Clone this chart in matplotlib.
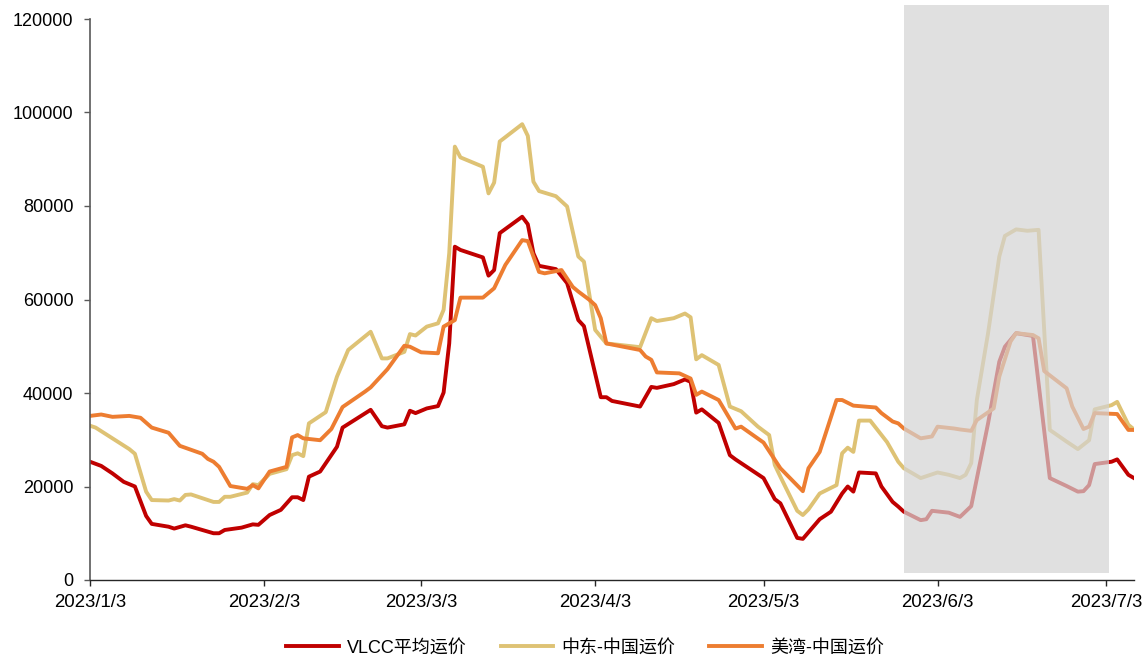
import numpy as np
import pandas as pd
import matplotlib
matplotlib.use("Agg")
import matplotlib.pyplot as plt
import matplotlib.dates as mdates
import matplotlib.patches as patches

plt.rcParams['font.family'] = ['Liberation Sans', 'Noto Sans CJK SC']
plt.rcParams['axes.unicode_minus'] = False

# daily freight rates, x as days since 2023-01-03
start = pd.Timestamp("2023-01-03")

vlcc_day = [0, 2, 4, 6, 8, 10, 11, 14, 15, 17, 18, 22, 23, 24, 27, 29, 30, 32, 34, 36,
            37, 38, 39, 41, 44, 45, 50, 52, 53, 56, 57, 58, 60, 62, 63, 64, 65, 66, 70, 71,
            72, 73, 77, 78, 79, 80, 83, 85, 87, 88, 91, 92, 93, 98, 100, 101, 104, 106, 107, 108,
            109, 112, 114, 115, 120, 122, 123, 126, 127, 130, 132, 134, 135, 136, 137, 140, 141, 143, 144, 145,
            148, 149, 150, 153, 155, 157, 160, 162, 163, 165, 168, 171, 174, 176, 177, 178, 179, 182, 183, 185,
            186]
vlcc_rate = [25300, 24400, 22800, 21000, 20000, 13700, 12000, 11400, 11000, 11700, 11400, 10000, 10000, 10700, 11200, 11900, 11800, 13900, 15000, 17700,
             17700, 17100, 22100, 23200, 28500, 32600, 36400, 32900, 32600, 33300, 36200, 35700, 36700, 37200, 40100, 50600, 71300, 70600, 69000, 65100,
             66300, 74200, 77700, 76100, 69900, 67200, 66500, 63500, 55600, 54300, 39100, 39100, 38300, 37100, 41300, 41100, 41900, 42900, 42400, 35800,
             36500, 33600, 26700, 25800, 21800, 17300, 16400, 9000, 8800, 13000, 14600, 18500, 20000, 18900, 23000, 22800, 20000, 16700, 15700, 14600,
             12800, 13000, 14800, 14400, 13500, 15800, 33500, 46700, 49900, 52800, 52200, 21800, 20100, 18900, 19000, 20300, 24800, 25300, 25800, 22500,
             21800]

me_day = [0, 1, 4, 7, 8, 10, 11, 14, 15, 16, 17, 18, 22, 23, 24, 25, 28, 29, 30, 32,
          35, 36, 37, 38, 39, 42, 44, 46, 50, 52, 53, 56, 57, 58, 60, 62, 63, 64, 65, 66,
          70, 71, 72, 73, 77, 78, 79, 80, 83, 85, 87, 88, 90, 92, 98, 100, 101, 104, 106, 107,
          108, 109, 112, 114, 116, 119, 121, 122, 123, 126, 127, 128, 130, 133, 134, 135, 136, 137, 139, 142,
          144, 145, 148, 151, 153, 155, 156, 157, 158, 160, 162, 163, 165, 167, 169, 171, 174, 176, 178, 179,
          182, 183, 185, 186]
me_rate = [33000, 32600, 30300, 28000, 27000, 18900, 17100, 17000, 17300, 17000, 18200, 18300, 16700, 16700, 17800, 17800, 18700, 20500, 20300, 22700,
           23700, 26700, 27100, 26500, 33500, 35900, 43500, 49200, 53100, 47400, 47400, 48800, 52600, 52300, 54200, 54900, 57800, 69900, 92700, 90400,
           88400, 82700, 85000, 93800, 97500, 95000, 85200, 83200, 82100, 79900, 69200, 68100, 53500, 50600, 49800, 56000, 55400, 56000, 57000, 56200,
           47200, 48100, 46000, 37100, 36100, 32800, 31000, 24600, 22100, 14800, 13900, 15100, 18500, 20300, 27100, 28300, 27400, 34100, 34100, 29500,
           25300, 23900, 21800, 23000, 22500, 21800, 22500, 25000, 38500, 52800, 69200, 73600, 75000, 74700, 74900, 32100, 29600, 28000, 29900, 36500,
           37400, 38100, 33200, 32200]

usg_day = [0, 2, 4, 7, 9, 11, 14, 16, 20, 21, 22, 23, 25, 28, 29, 30, 32, 35, 36, 37,
           38, 41, 43, 45, 49, 50, 53, 56, 57, 59, 62, 63, 65, 66, 70, 72, 74, 77, 78, 80,
           81, 84, 86, 87, 89, 90, 91, 92, 98, 99, 100, 101, 105, 107, 108, 109, 112, 115, 116, 120,
           123, 127, 128, 130, 133, 134, 136, 140, 141, 143, 144, 145, 148, 150, 151, 154, 155, 157, 158, 161,
           162, 164, 165, 168, 169, 170, 174, 175, 177, 178, 179, 183, 185, 186]
usg_rate = [35100, 35400, 34900, 35100, 34700, 32600, 31500, 28700, 27000, 25900, 25300, 24200, 20100, 19500, 20300, 19600, 23200, 24200, 30500, 31000,
            30300, 29900, 32300, 37000, 40300, 41200, 45100, 50100, 49900, 48700, 48500, 54200, 55600, 60400, 60400, 62400, 67400, 72700, 72500, 65900,
            65600, 66300, 62700, 61700, 59900, 58800, 56000, 50600, 49200, 47800, 47100, 44400, 44200, 43100, 39600, 40300, 38500, 32400, 32800, 29400,
            23900, 19000, 23900, 27400, 38500, 38500, 37300, 36900, 35700, 33900, 33500, 32400, 30300, 30700, 32800, 32400, 32200, 31900, 34200, 36700,
            43500, 51000, 52800, 52400, 51700, 44700, 41000, 37100, 32300, 32800, 35700, 35500, 32100, 32100]

labels = ["VLCC平均运价", "中东-中国运价", "美湾-中国运价"]
colors = ["#C00000", "#DEC274", "#ED7D31"]

tick_dates = pd.to_datetime(["2023-01-03", "2023-02-03", "2023-03-03", "2023-04-03",
                             "2023-05-03", "2023-06-03", "2023-07-03"])


def to_dates(days):
	return start + pd.to_timedelta(np.array(days), unit="D")


fontsize = 13

fig = plt.figure(figsize=(11.47, 6.57), dpi=100)
ax = fig.add_axes([90/1147, 1-580/657, (1134-90)/1147, (580-19)/657])

series = [(vlcc_day, vlcc_rate), (me_day, me_rate), (usg_day, usg_rate)]
for (d, v), c, lab in zip(series, colors, labels):
	ax.plot(to_dates(d), v, color=c, lw=2.8, label=lab, solid_joinstyle="round", zorder=2)

# shaded window drawn over the lines so they fade inside it
x0 = mdates.date2num(pd.Timestamp("2023-05-28"))
x1 = mdates.date2num(pd.Timestamp("2023-07-03 12:00"))
rect = patches.Rectangle((x0, 1500), x1-x0, 121500, facecolor=(0.83, 0.83, 0.83),
                         alpha=0.7, edgecolor="none", zorder=3, clip_on=False)
ax.add_patch(rect)

ax.set_xlim(start, start + pd.Timedelta(days=186))
ax.set_ylim(0, 120000)
ax.set_yticks(np.arange(0, 120001, 20000))
ax.set_xticks(tick_dates)
ax.set_xticklabels([f"{t.year}/{t.month}/{t.day}" for t in tick_dates])

for s in ["top", "right"]:
	ax.spines[s].set_visible(False)
ax.spines["left"].set_color("#595959")
ax.spines["left"].set_linewidth(1.2)
ax.spines["bottom"].set_color("#262626")
ax.spines["bottom"].set_linewidth(1.0)

ax.tick_params(axis="y", direction="out", length=4, width=1, color="#595959", pad=8, labelsize=fontsize)
ax.tick_params(axis="x", direction="out", length=4, width=1, color="#262626", pad=6, labelsize=13.4)

fig.legend(loc="center", bbox_to_anchor=(585/1147, 1-648/657), ncol=3, frameon=False,
           fontsize=13, handlelength=2.9, columnspacing=1.9, handletextpad=0.45)

fig.savefig("out.png", dpi=100)
